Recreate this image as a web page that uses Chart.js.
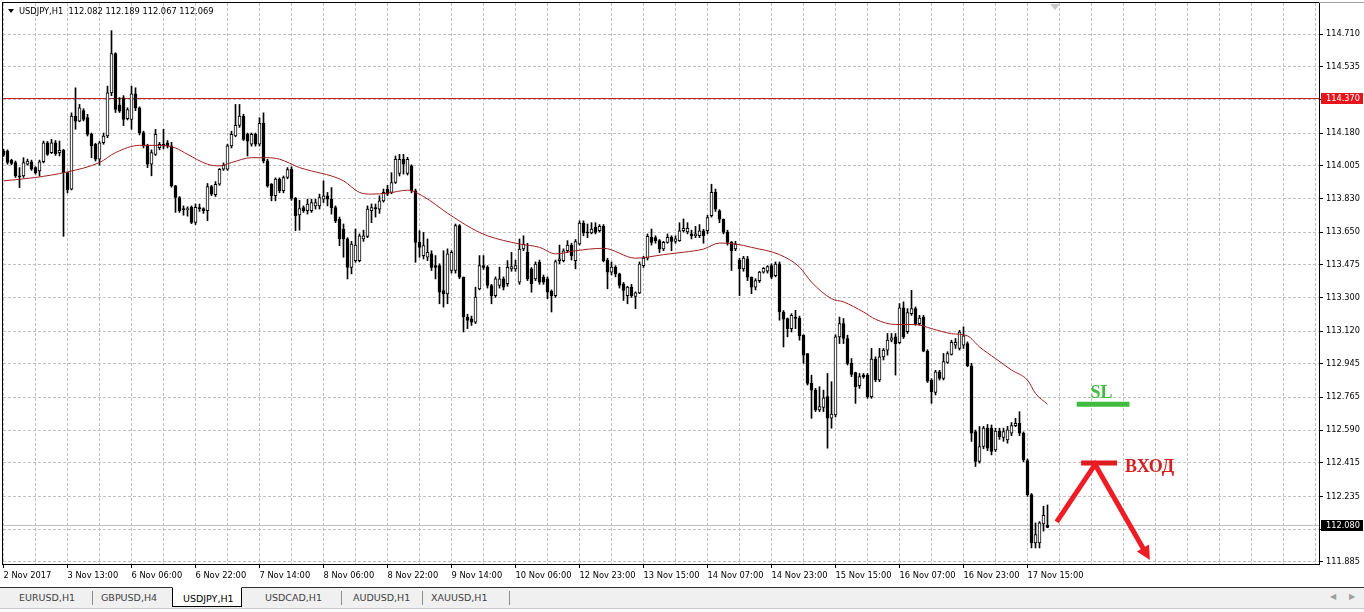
<!DOCTYPE html>
<html>
<head>
<meta charset="utf-8">
<title>USDJPY,H1</title>
<script src="https://cdn.jsdelivr.net/npm/chart.js@4.4.1/dist/chart.umd.min.js"></script>
<style>
  html, body { margin: 0; padding: 0; background: #fff; overflow: hidden; }
  #wrap { position: relative; width: 1364px; height: 612px; }
  #chart { position: absolute; left: 0; top: 0; width: 1364px; height: 588px; }
  #tabs { position: absolute; left: 0; top: 587px; width: 1364px; height: 20px; background: #f0f0f0;
          border-top: 1px solid #303030; border-bottom: 1px solid #c8c8c8;
          font: 9.5px "DejaVu Sans", sans-serif; color: #404040; }
  #tabs span { position: absolute; top: 4px; white-space: nowrap; }
  #tabs .sep { top: 3px; width: 1px; height: 14px; background: #8c8c8c; }
  #tabs .active { position: absolute; top: -1px; left: 172px; width: 68px; height: 18px; background: #fff;
                  border: 1px solid #000; border-top-color: #fff; color: #000; }
  #tabs .active span { left: 10px; top: 5px; }
  #tabs .arr { top: 4px; color: #a0a0a0; font-size: 8px; }
</style>
</head>
<body>
<div id="wrap">
  <canvas id="chart" width="1364" height="588"></canvas>
  <div id="tabs">
    <span style="left:19px">EURUSD,H1</span>
    <span class="sep" style="left:92px"></span>
    <span style="left:101px">GBPUSD,H4</span>
    <div class="active"><span>USDJPY,H1</span></div>
    <span style="left:265px">USDCAD,H1</span>
    <span class="sep" style="left:341px"></span>
    <span style="left:353px">AUDUSD,H1</span>
    <span class="sep" style="left:422px"></span>
    <span style="left:431px">XAUUSD,H1</span>
    <span class="sep" style="left:509px"></span>
    <span class="arr" style="left:1330px">&#9664;</span>
    <span class="arr" style="left:1349px">&#9654;</span>
  </div>
</div>
<script>
// hourly bars, index 0 = 2 Nov 2017 21:00
var opens = [
  114.084,114.084,114.034,114.022,113.951,113.951,114.013,114.026,113.995,113.977,
  114.026,114.128,114.075,114.128,114.075,114.088,113.968,113.880,114.271,114.244,
  114.300,114.262,114.173,114.120,114.040,114.128,114.164,114.395,114.605,114.330,
  114.368,114.257,114.253,114.390,114.315,114.182,114.111,114.013,114.066,114.102,
  114.120,114.128,114.111,113.897,113.835,113.775,113.770,113.782,113.702,113.780,
  113.775,113.764,113.893,113.850,113.906,113.986,113.986,114.111,114.164,114.221,
  114.271,114.173,114.120,114.173,114.120,114.232,114.031,113.906,113.844,113.933,
  113.871,113.942,113.986,113.830,113.742,113.781,113.764,113.764,113.790,113.790,
  113.826,113.844,113.826,113.781,113.719,113.666,113.613,113.461,113.497,113.497,
  113.613,113.627,113.764,113.781,113.773,113.817,113.879,113.862,113.915,113.964,
  114.039,113.964,114.004,113.870,113.595,113.524,113.515,113.533,113.470,113.470,
  113.337,113.319,113.444,113.444,113.684,113.408,113.195,113.186,113.168,113.346,
  113.470,113.461,113.364,113.310,113.364,113.399,113.373,113.453,113.453,113.381,
  113.559,113.541,113.453,113.399,113.488,113.408,113.399,113.332,113.310,113.497,
  113.497,113.550,113.580,113.497,113.586,113.698,113.650,113.645,113.675,113.657,
  113.680,113.500,113.435,113.462,113.426,113.373,113.310,113.355,113.305,113.324,
  113.470,113.510,113.622,113.620,113.604,113.559,113.595,113.622,113.600,113.604,
  113.657,113.650,113.640,113.630,113.630,113.657,113.657,113.737,113.862,113.764,
  113.719,113.650,113.595,113.560,113.500,113.453,113.506,113.408,113.355,113.390,
  113.435,113.440,113.470,113.417,113.480,113.222,113.187,113.133,113.195,113.190,
  113.098,113.000,112.840,112.804,112.698,112.711,112.769,112.653,112.671,113.089,
  113.160,113.080,112.947,112.898,112.827,112.884,112.884,112.769,112.970,112.858,
  112.982,113.018,113.071,113.089,113.058,113.244,113.116,113.213,113.240,113.160,
  113.195,113.012,112.858,112.791,112.902,112.867,112.952,112.995,113.044,113.027,
  113.044,113.053,112.934,112.582,112.422,112.502,112.600,112.600,112.484,112.585,
  112.550,112.537,112.573,112.614,112.626,112.573,112.427,112.244,111.986,111.986,
  112.088,112.082
];
var highs = [
  114.093,114.090,114.040,114.030,113.995,114.048,114.040,114.035,114.000,114.035,
  114.137,114.135,114.146,114.140,114.137,114.093,113.970,114.288,114.422,114.333,
  114.310,114.280,114.180,114.125,114.135,114.180,114.431,114.728,114.610,114.370,
  114.380,114.315,114.431,114.422,114.320,114.190,114.120,114.090,114.200,114.130,
  114.200,114.140,114.130,113.900,113.840,113.790,113.785,113.790,113.800,113.800,
  113.780,113.910,113.900,113.920,113.990,114.020,114.120,114.190,114.333,114.333,
  114.280,114.180,114.180,114.180,114.262,114.288,114.040,113.910,113.940,113.940,
  113.950,113.995,114.000,113.835,113.820,113.790,113.826,113.826,113.826,113.853,
  113.924,113.862,113.888,113.790,113.730,113.693,113.620,113.600,113.666,113.640,
  113.660,113.790,113.800,113.800,113.844,113.880,113.900,113.968,114.057,114.066,
  114.066,114.050,114.010,113.880,113.657,113.648,113.613,113.550,113.524,113.480,
  113.550,113.560,113.550,113.693,113.690,113.410,113.210,113.200,113.355,113.524,
  113.524,113.470,113.370,113.410,113.462,113.410,113.497,113.541,113.500,113.613,
  113.630,113.590,113.460,113.490,113.500,113.420,113.410,113.340,113.500,113.580,
  113.560,113.604,113.590,113.610,113.710,113.710,113.693,113.700,113.700,113.690,
  113.690,113.510,113.490,113.470,113.430,113.380,113.360,113.370,113.330,113.490,
  113.520,113.640,113.666,113.630,113.610,113.600,113.640,113.630,113.630,113.700,
  113.720,113.700,113.660,113.680,113.690,113.665,113.740,113.906,113.880,113.770,
  113.720,113.660,113.600,113.600,113.510,113.520,113.520,113.410,113.400,113.440,
  113.460,113.470,113.480,113.490,113.490,113.230,113.190,113.213,113.231,113.200,
  113.100,113.000,112.884,112.813,112.822,112.804,112.893,112.849,113.100,113.195,
  113.187,113.098,112.973,112.900,112.893,112.893,112.893,113.027,112.982,113.027,
  113.027,113.107,113.107,113.107,113.267,113.276,113.240,113.338,113.249,113.204,
  113.204,113.020,112.865,112.910,112.910,113.000,113.009,113.071,113.080,113.124,
  113.142,113.062,112.947,112.590,112.609,112.610,112.620,112.617,112.600,112.600,
  112.600,112.610,112.630,112.653,112.688,112.580,112.435,112.250,112.093,112.100,
  112.182,112.189
];
var lows = [
  114.055,114.013,114.010,113.942,113.888,113.942,114.008,113.980,113.960,113.950,
  114.020,114.060,114.070,114.060,114.057,113.627,113.860,113.875,114.200,114.240,
  114.245,114.164,114.048,114.030,114.008,114.120,114.155,114.380,114.290,114.290,
  114.220,114.250,114.200,114.300,114.170,114.100,113.995,113.951,114.060,114.090,
  114.095,114.100,113.890,113.755,113.755,113.740,113.735,113.695,113.690,113.760,
  113.750,113.711,113.845,113.840,113.900,113.980,113.980,114.100,114.160,114.210,
  114.140,114.057,114.110,114.110,114.110,114.020,113.890,113.817,113.817,113.860,
  113.860,113.935,113.820,113.657,113.660,113.755,113.746,113.755,113.773,113.773,
  113.808,113.790,113.746,113.700,113.577,113.515,113.399,113.426,113.488,113.490,
  113.600,113.620,113.700,113.730,113.750,113.810,113.845,113.855,113.910,113.950,
  113.960,113.955,113.860,113.488,113.515,113.506,113.497,113.444,113.399,113.266,
  113.248,113.266,113.430,113.430,113.400,113.115,113.133,113.150,113.160,113.340,
  113.450,113.350,113.266,113.300,113.350,113.340,113.360,113.440,113.440,113.370,
  113.550,113.390,113.328,113.390,113.370,113.370,113.293,113.222,113.300,113.480,
  113.490,113.540,113.500,113.453,113.580,113.630,113.620,113.640,113.640,113.650,
  113.490,113.346,113.420,113.410,113.350,113.284,113.266,113.300,113.240,113.320,
  113.460,113.500,113.580,113.590,113.540,113.550,113.590,113.550,113.590,113.600,
  113.650,113.640,113.613,113.620,113.620,113.590,113.640,113.730,113.760,113.700,
  113.640,113.580,113.444,113.550,113.310,113.440,113.390,113.320,113.340,113.380,
  113.430,113.430,113.400,113.410,113.178,113.035,113.089,113.115,113.133,113.071,
  112.947,112.831,112.653,112.689,112.689,112.689,112.493,112.600,112.660,113.053,
  113.053,112.938,112.876,112.733,112.813,112.867,112.760,112.760,112.849,112.849,
  112.965,112.991,113.062,112.884,113.053,113.080,113.107,113.204,113.151,113.151,
  113.009,112.845,112.733,112.778,112.858,112.858,112.947,112.991,113.027,113.018,
  113.027,112.929,112.529,112.395,112.413,112.490,112.480,112.457,112.475,112.540,
  112.530,112.520,112.560,112.608,112.560,112.420,112.235,111.959,111.959,111.959,
  112.049,112.067
];
var closes = [
  114.061,114.022,114.017,113.951,113.945,114.022,114.030,113.986,113.968,114.026,
  114.128,114.066,114.128,114.070,114.088,113.968,113.875,114.271,114.244,114.315,
  114.253,114.173,114.111,114.040,114.128,114.164,114.395,114.605,114.306,114.297,
  114.253,114.306,114.390,114.315,114.182,114.111,114.013,114.075,114.173,114.120,
  114.110,114.111,113.897,113.835,113.764,113.768,113.772,113.702,113.782,113.775,
  113.765,113.893,113.853,113.906,113.986,114.008,114.111,114.173,114.221,114.271,
  114.146,114.137,114.173,114.120,114.232,114.031,113.897,113.844,113.933,113.871,
  113.942,113.984,113.830,113.737,113.775,113.764,113.799,113.808,113.808,113.835,
  113.844,113.826,113.781,113.710,113.613,113.613,113.461,113.586,113.580,113.630,
  113.630,113.773,113.781,113.775,113.817,113.862,113.853,113.915,114.039,114.039,
  114.013,114.039,113.870,113.595,113.568,113.577,113.541,113.461,113.461,113.328,
  113.319,113.533,113.541,113.684,113.408,113.195,113.177,113.168,113.302,113.470,
  113.461,113.364,113.310,113.399,113.399,113.355,113.461,113.465,113.470,113.559,
  113.586,113.399,113.373,113.479,113.381,113.381,113.328,113.310,113.492,113.506,
  113.550,113.580,113.524,113.599,113.698,113.645,113.645,113.666,113.648,113.680,
  113.497,113.435,113.462,113.426,113.364,113.337,113.355,113.310,113.324,113.479,
  113.510,113.627,113.595,113.604,113.559,113.595,113.622,113.600,113.613,113.657,
  113.670,113.670,113.630,113.640,113.657,113.630,113.728,113.862,113.773,113.719,
  113.648,113.595,113.550,113.586,113.453,113.510,113.408,113.355,113.390,113.435,
  113.456,113.465,113.408,113.479,113.222,113.183,113.133,113.204,113.187,113.094,
  112.991,112.840,112.804,112.698,112.715,112.763,112.653,112.675,113.089,113.160,
  113.080,112.947,112.888,112.822,112.876,112.876,112.769,112.970,112.858,112.982,
  113.018,113.071,113.084,113.053,113.244,113.089,113.219,113.240,113.160,113.190,
  113.012,112.852,112.795,112.902,112.867,112.956,113.000,113.059,113.059,113.115,
  113.094,112.934,112.573,112.422,112.502,112.600,112.493,112.475,112.585,112.555,
  112.582,112.591,112.614,112.626,112.573,112.431,112.244,111.986,112.031,112.093,
  112.134,112.069
];

// one time label every 16 bars
var timeLabels = ['2 Nov 2017','3 Nov 13:00','6 Nov 06:00','6 Nov 22:00','7 Nov 14:00','8 Nov 06:00',
  '8 Nov 22:00','9 Nov 14:00','10 Nov 06:00','12 Nov 23:00','13 Nov 15:00','14 Nov 07:00',
  '14 Nov 23:00','15 Nov 15:00','16 Nov 07:00','16 Nov 23:00','17 Nov 15:00'];
var priceTicks = [114.710,114.535,114.360,114.180,114.005,113.830,113.650,113.475,113.300,
  113.120,112.945,112.765,112.590,112.415,112.235,112.060,111.885];

// moving average, read at these bars
var maIdx = [0,8,16,24,28,34,39,43,46,51,54,57,62,66,69,74,77,82,85,89,92,96,101,105,111,
  117,121,129,134,138,143,150,158,165,170,175,179,183,187,194,199,202,207,210,215,218,223,
  228,232,237,241,244,248,252,256,258,261];
var maVals = [113.924,113.942,113.972,114.022,114.075,114.114,114.114,114.100,114.066,114.013,
  114.004,114.022,114.048,114.048,114.040,113.995,113.977,113.950,113.924,113.862,113.853,
  113.858,113.874,113.840,113.751,113.670,113.630,113.586,113.568,113.533,113.550,113.563,
  113.510,113.529,113.542,113.559,113.591,113.586,113.568,113.529,113.462,113.382,113.293,
  113.276,113.222,113.183,113.155,113.155,113.133,113.106,113.094,113.035,112.973,112.911,
  112.857,112.786,112.728];

var levelPrice = 114.370;
var bidPrice = 112.080;

// hand drawn marks, as [bar, price]
var slLine = [[268.3, 112.728], [281.5, 112.728]];
var slText = [274.5, 112.763];
var entryLine = [[269.4, 112.413], [278.4, 112.413]];
var entryText = [280.4, 112.367];
var arrowPath = [[263.3, 112.099], [272.9, 112.406], [286.6, 111.894]];
var shiftMark = 262.9;

var FONT = '"DejaVu Sans", sans-serif';

var bodies = opens.map(function(o, i) { return {x: i, y: [o, closes[i]]}; });
var wicks = lows.map(function(l, i) { return {x: i, y: [l, highs[i]]}; });
var bodyColors = opens.map(function(o, i) { return closes[i] > o ? '#ffffff' : '#000000'; });
var maPoints = maIdx.map(function(b, k) { return {x: b, y: maVals[k]}; });

function linePath(ctx, pts) {
  ctx.beginPath();
  pts.forEach(function(p, k) { if (k) ctx.lineTo(p[0], p[1]); else ctx.moveTo(p[0], p[1]); });
  ctx.stroke();
}

var mt4 = {
  id: 'mt4',
  beforeDatasetsDraw: function(chart) {
    var ctx = chart.ctx, a = chart.chartArea, y = chart.scales.y;
    ctx.save();
    ctx.lineWidth = 1;
    var py = Math.round(y.getPixelForValue(bidPrice)) + 0.5;
    ctx.strokeStyle = '#c0c0c0';
    ctx.beginPath(); ctx.moveTo(a.left, py); ctx.lineTo(a.right, py); ctx.stroke();
    py = Math.round(y.getPixelForValue(levelPrice)) + 0.5;
    ctx.strokeStyle = '#c82020';
    ctx.beginPath(); ctx.moveTo(a.left, py); ctx.lineTo(a.right, py); ctx.stroke();
    ctx.restore();
  },
  afterDraw: function(chart) {
    var ctx = chart.ctx, a = chart.chartArea, x = chart.scales.x, y = chart.scales.y;
    function px(p) { return [x.getPixelForValue(p[0]), y.getPixelForValue(p[1])]; }
    ctx.save();

    // frame
    ctx.strokeStyle = '#000';
    ctx.lineWidth = 1;
    ctx.strokeRect(a.left - 0.5, a.top - 0.5, a.right - a.left + 1, a.bottom - a.top + 1);
    ctx.strokeStyle = '#a0a0a0';
    ctx.beginPath(); ctx.moveTo(a.right, a.top - 0.5); ctx.lineTo(chart.width, a.top - 0.5); ctx.stroke();

    // price labels on the axis
    function priceBox(p, bg) {
      var py = Math.round(y.getPixelForValue(p));
      ctx.fillStyle = bg;
      ctx.fillRect(a.right + 2, py - 5, 42, 11);
      ctx.fillStyle = '#fff';
      ctx.font = '8.2px ' + FONT;
      ctx.textAlign = 'left';
      ctx.textBaseline = 'middle';
      ctx.fillText(p.toFixed(3), a.right + 7, py + 0.5);
    }
    priceBox(levelPrice, '#e8141b');
    priceBox(bidPrice, '#000');

    // header: symbol and last bar OHLC
    var n = opens.length - 1;
    ctx.fillStyle = '#000';
    ctx.beginPath(); ctx.moveTo(a.left + 5, 9); ctx.lineTo(a.left + 11, 9); ctx.lineTo(a.left + 8, 13); ctx.closePath(); ctx.fill();
    ctx.font = '8.3px ' + FONT;
    ctx.textAlign = 'left';
    ctx.textBaseline = 'middle';
    ctx.fillText('USDJPY,H1  ' + [opens[n], highs[n], lows[n], closes[n]].map(function(v) { return v.toFixed(3); }).join(' '),
      a.left + 16, 11.5);

    // chart shift marker
    var sx = x.getPixelForValue(shiftMark);
    ctx.fillStyle = '#c8c8c8';
    ctx.beginPath(); ctx.moveTo(sx - 5, a.top + 1); ctx.lineTo(sx + 5, a.top + 1); ctx.lineTo(sx, a.top + 7); ctx.closePath(); ctx.fill();

    // SL mark
    ctx.lineCap = 'butt';
    ctx.strokeStyle = '#3fbb3f';
    ctx.lineWidth = 5;
    linePath(ctx, slLine.map(px));
    ctx.fillStyle = '#3fbb3f';
    ctx.font = 'bold 18px "Liberation Serif", serif';
    ctx.textAlign = 'center';
    ctx.textBaseline = 'alphabetic';
    var t = px(slText);
    ctx.fillText('SL', t[0], t[1]);

    // entry mark
    ctx.strokeStyle = '#e01a1f';
    linePath(ctx, entryLine.map(px));
    ctx.fillStyle = '#d42020';
    ctx.textAlign = 'left';
    t = px(entryText);
    ctx.fillText('ВХОД', t[0], t[1]);

    // arrow: up to entry, then down
    var pts = arrowPath.map(px);
    var p1 = pts[pts.length - 2], p2 = pts[pts.length - 1];
    var ang = Math.atan2(p2[1] - p1[1], p2[0] - p1[0]);
    var head = 14, half = 7;
    var shaft = pts.slice(0, -1).concat([[p2[0] - Math.cos(ang) * (head - 2), p2[1] - Math.sin(ang) * (head - 2)]]);
    ctx.strokeStyle = '#ee1c24';
    ctx.lineWidth = 5;
    ctx.lineJoin = 'miter';
    linePath(ctx, shaft);
    ctx.fillStyle = '#ee1c24';
    var bx = p2[0] - Math.cos(ang) * head, by = p2[1] - Math.sin(ang) * head;
    ctx.beginPath();
    ctx.moveTo(p2[0], p2[1]);
    ctx.lineTo(bx + Math.sin(ang) * half, by - Math.cos(ang) * half);
    ctx.lineTo(bx - Math.sin(ang) * half, by + Math.cos(ang) * half);
    ctx.closePath();
    ctx.fill();

    ctx.restore();
  }
};

var gridEvery8 = [];
for (var g = 0; g <= 328; g += 8) gridEvery8.push(g);

new Chart(document.getElementById('chart'), {
  type: 'bar',
  data: {
    datasets: [
      {
        type: 'line',
        data: maPoints,
        borderColor: '#a31c1c',
        borderWidth: 1,
        pointRadius: 0,
        cubicInterpolationMode: 'monotone',
        order: 0
      },
      {
        data: bodies,
        backgroundColor: bodyColors,
        borderColor: '#000',
        borderWidth: 1,
        borderSkipped: false,
        barThickness: 3,
        minBarLength: 1,
        grouped: false,
        order: 1
      },
      {
        data: wicks,
        backgroundColor: '#000',
        borderWidth: 0,
        barThickness: 1,
        minBarLength: 1,
        grouped: false,
        order: 2
      }
    ]
  },
  plugins: [mt4],
  options: {
    responsive: false,
    animation: false,
    events: [],
    layout: { padding: { left: 3, top: 3, right: 0, bottom: 0 } },
    plugins: { legend: { display: false }, tooltip: { enabled: false } },
    scales: {
      x: {
        type: 'linear',
        position: 'bottom',
        offset: false,
        min: -0.125,
        max: 328.875,
        afterBuildTicks: function(s) { s.ticks = gridEvery8.map(function(v) { return {value: v}; }); },
        afterFit: function(s) { s.height = 24; s.paddingLeft = 0; s.paddingRight = 0; },
        ticks: {
          autoSkip: false,
          maxRotation: 0,
          align: 'start',
          padding: 3,
          color: '#000',
          font: { family: FONT, size: 8.3 },
          callback: function(v) { return (v % 16 === 0 && timeLabels[v / 16]) || ''; }
        },
        grid: {
          offset: false,
          color: '#c0c0c0',
          tickLength: 4,
          tickColor: function(c) {
            return c.tick && c.tick.value % 16 === 0 && c.tick.value <= 256 ? '#000' : 'rgba(0,0,0,0)';
          }
        },
        border: { display: false, dash: [3, 2] }
      },
      y: {
        type: 'linear',
        position: 'right',
        min: 111.873,
        max: 114.876,
        afterBuildTicks: function(s) { s.ticks = priceTicks.map(function(v) { return {value: v}; }); },
        afterFit: function(s) { s.width = 45; s.paddingTop = 0; s.paddingBottom = 0; },
        ticks: {
          padding: 3,
          color: '#000',
          font: { family: FONT, size: 8.2 },
          callback: function(v) { return Number(v).toFixed(3); }
        },
        grid: { color: '#c0c0c0', tickLength: 4, tickColor: '#000' },
        border: { display: false, dash: [3, 2] }
      }
    }
  }
});
</script>
</body>
</html>
